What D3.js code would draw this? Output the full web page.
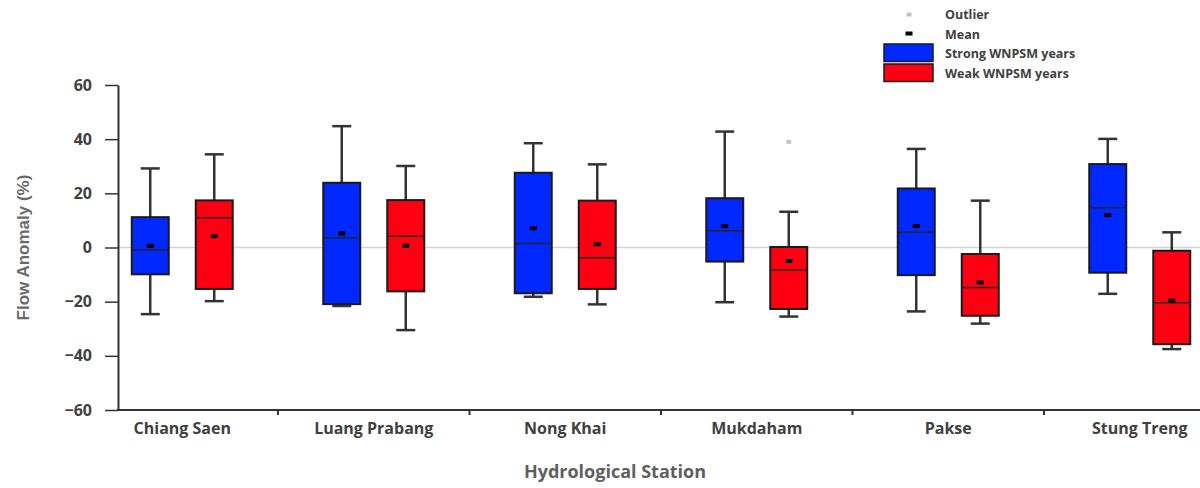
<!DOCTYPE html>
<html>
<head>
<meta charset="utf-8">
<script src="https://cdn.jsdelivr.net/npm/d3@7"></script>
<style>
  html, body { margin: 0; padding: 0; background: #fff; }
  svg { display: block; }
</style>
</head>
<body>
<div id="chart"></div>
<script>
// station names along the x axis
const stations = ['Chiang Saen', 'Luang Prabang', 'Nong Khai', 'Mukdaham', 'Pakse', 'Stung Treng'];
const groups = ['strong', 'weak'];
const groupLabels = ['Strong WNPSM years', 'Weak WNPSM years'];
const yTicks = [-60, -40, -20, 0, 20, 40, 60];

// Strong WNPSM years (flow anomaly, %)
const strongMin = [-24.6, -21.6, -18.2, -20.2, -23.6, -17.1];
const strongQ1 = [-9.9, -20.9, -16.9, -5.2, -10.2, -9.3];
const strongMedian = [-0.9, 3.6, 1.5, 6.2, 5.6, 14.7];
const strongMean = [0.6, 5.2, 7.1, 7.9, 7.9, 12.0];
const strongQ3 = [11.2, 23.9, 27.6, 18.2, 21.8, 30.8];
const strongMax = [29.2, 44.8, 38.5, 42.8, 36.4, 40.1];

// Weak WNPSM years (flow anomaly, %)
const weakMin = [-19.8, -30.5, -21.0, -25.5, -28.1, -37.5];
const weakQ1 = [-15.3, -16.2, -15.3, -22.7, -25.2, -35.7];
const weakMedian = [11.0, 4.2, -3.8, -8.3, -14.8, -20.4];
const weakMean = [4.2, 0.7, 1.2, -5.0, -12.9, -19.6];
const weakQ3 = [17.4, 17.5, 17.3, 0.2, -2.4, -1.2];
const weakMax = [34.4, 30.1, 30.7, 13.2, 17.3, 5.6];

const outlierStations = ['Mukdaham'];
const outlierGroups = ['weak'];
const outlierValues = [39.0];

const fontColour = '#404040';
const fontFamily = '"Open Sans", sans-serif';
const fills = { strong: '#0028ff', weak: '#ff0012' };

const boxes = [];
stations.forEach((s, i) => {
    boxes.push({ station: s, group: 'strong', min: strongMin[i], q1: strongQ1[i], median: strongMedian[i], mean: strongMean[i], q3: strongQ3[i], max: strongMax[i] });
    boxes.push({ station: s, group: 'weak', min: weakMin[i], q1: weakQ1[i], median: weakMedian[i], mean: weakMean[i], q3: weakQ3[i], max: weakMax[i] });
});
const outliers = outlierValues.map((v, i) => ({ station: outlierStations[i], group: outlierGroups[i], value: v }));

const width = 1200;
const height = 488;
const axisX = 118;
const plotTop = 85;
const plotBottom = 410;

const svg = d3.select('#chart')
    .append('svg')
    .attr('width', width)
    .attr('height', height)
    .style('font-family', fontFamily);

const x = d3.scaleBand().domain(stations).range([86.5, 86.5 + 6 * 191.5]);
const x1 = d3.scaleBand().domain(groups).range([-50.5, 50.5]).paddingInner(0.422);
const y = d3.scaleLinear().domain([-60, 60]).range([plotBottom, plotTop]);

const cx = (d) => x(d.station) + x.bandwidth() / 2 + x1(d.group) + x1.bandwidth() / 2;

// zero reference line
svg.append('line')
    .attr('x1', axisX).attr('x2', width)
    .attr('y1', y(0)).attr('y2', y(0))
    .attr('stroke', '#d3d3d3')
    .attr('stroke-width', 1.5);

// y axis
const yAxis = svg.append('g')
    .attr('transform', 'translate(' + axisX + ',0)')
    .call(d3.axisLeft(y).tickValues(yTicks).tickSize(13).tickPadding(13).tickSizeOuter(0))
    .attr('font-family', null);
yAxis.select('.domain').attr('stroke', '#333').attr('stroke-width', 2);
yAxis.selectAll('line').attr('stroke', '#333').attr('stroke-width', 1.5);
yAxis.selectAll('text')
    .attr('fill', fontColour)
    .style('font-family', fontFamily)
    .style('font-size', '16px')
    .style('font-weight', 700);

// x axis: labels from the band scale, boundary ticks drawn between bands
const xAxis = svg.append('g')
    .attr('transform', 'translate(0,' + plotBottom + ')')
    .call(d3.axisBottom(x).tickSize(0))
    .attr('font-family', null);
xAxis.select('.domain').remove();
xAxis.selectAll('text')
    .attr('y', 24)
    .attr('dy', null)
    .attr('fill', fontColour)
    .style('font-family', fontFamily)
    .style('font-size', '16px')
    .style('font-weight', 700);

svg.append('line')
    .attr('x1', axisX - 1).attr('x2', width)
    .attr('y1', plotBottom).attr('y2', plotBottom)
    .attr('stroke', '#333')
    .attr('stroke-width', 2);

svg.append('g')
    .selectAll('line')
    .data(stations.slice(0, -1))
    .join('line')
    .attr('x1', (s) => x(s) + x.bandwidth())
    .attr('x2', (s) => x(s) + x.bandwidth())
    .attr('y1', plotBottom)
    .attr('y2', plotBottom + 5)
    .attr('stroke', '#333')
    .attr('stroke-width', 2);

// axis titles
svg.append('text')
    .attr('x', 615)
    .attr('y', 478)
    .attr('text-anchor', 'middle')
    .attr('fill', '#5f5f5f')
    .style('font-size', '18px')
    .style('font-weight', 700)
    .text('Hydrological Station');

svg.append('text')
    .attr('transform', 'translate(29,' + y(0) + ') rotate(-90)')
    .attr('text-anchor', 'middle')
    .attr('fill', '#6a6a6a')
    .style('font-family', '"Liberation Sans", Arial, sans-serif')
    .style('font-size', '17px')
    .style('font-weight', 700)
    .text('Flow Anomaly (%)');

// box plots
const box = svg.append('g')
    .selectAll('g')
    .data(boxes)
    .join('g');

const capHalf = 9.5;

box.append('line')
    .attr('x1', cx).attr('x2', cx)
    .attr('y1', (d) => y(d.max)).attr('y2', (d) => y(d.min))
    .attr('stroke', '#333')
    .attr('stroke-width', 2.5);

box.append('line')
    .attr('x1', (d) => cx(d) - capHalf).attr('x2', (d) => cx(d) + capHalf)
    .attr('y1', (d) => y(d.max)).attr('y2', (d) => y(d.max))
    .attr('stroke', '#333')
    .attr('stroke-width', 2.5);

box.append('line')
    .attr('x1', (d) => cx(d) - capHalf).attr('x2', (d) => cx(d) + capHalf)
    .attr('y1', (d) => y(d.min)).attr('y2', (d) => y(d.min))
    .attr('stroke', '#333')
    .attr('stroke-width', 2.5);

box.append('rect')
    .attr('x', (d) => cx(d) - x1.bandwidth() / 2)
    .attr('width', x1.bandwidth())
    .attr('y', (d) => y(d.q3))
    .attr('height', (d) => y(d.q1) - y(d.q3))
    .attr('fill', (d) => fills[d.group])
    .attr('stroke', '#1a1a1a')
    .attr('stroke-width', 2);

box.append('line')
    .attr('x1', (d) => cx(d) - x1.bandwidth() / 2 + 1).attr('x2', (d) => cx(d) + x1.bandwidth() / 2 - 1)
    .attr('y1', (d) => y(d.median)).attr('y2', (d) => y(d.median))
    .attr('stroke', '#222')
    .attr('stroke-width', 1.5);

box.append('rect')
    .attr('x', (d) => cx(d) - 3.5)
    .attr('y', (d) => y(d.mean) - 2)
    .attr('width', 7)
    .attr('height', 4)
    .attr('fill', '#000');

// outliers
svg.append('g')
    .selectAll('rect')
    .data(outliers)
    .join('rect')
    .attr('x', (d) => cx(d) - 2.5)
    .attr('y', (d) => y(d.value) - 2)
    .attr('width', 5)
    .attr('height', 4)
    .attr('fill', '#c4c4c4');

// legend
const legend = svg.append('g').style('font-size', '12.5px').style('font-weight', 700);

legend.append('rect').attr('x', 906.5).attr('y', 12.5).attr('width', 5).attr('height', 4).attr('fill', '#c4c4c4');
legend.append('rect').attr('x', 905.5).attr('y', 31.5).attr('width', 7).attr('height', 4).attr('fill', '#000');

legend.selectAll('.swatch')
    .data(groups)
    .join('rect')
    .attr('class', 'swatch')
    .attr('x', 884)
    .attr('y', (g, i) => 44 + i * 20)
    .attr('width', 49)
    .attr('height', 17.5)
    .attr('fill', (g) => fills[g])
    .attr('stroke', '#1a1a1a')
    .attr('stroke-width', 1.5);

legend.selectAll('.label')
    .data(['Outlier', 'Mean'].concat(groupLabels))
    .join('text')
    .attr('class', 'label')
    .attr('x', 945)
    .attr('y', (t, i) => [19, 38.5, 57.5, 77.5][i])
    .attr('fill', fontColour)
    .text((t) => t);
</script>
</body>
</html>
